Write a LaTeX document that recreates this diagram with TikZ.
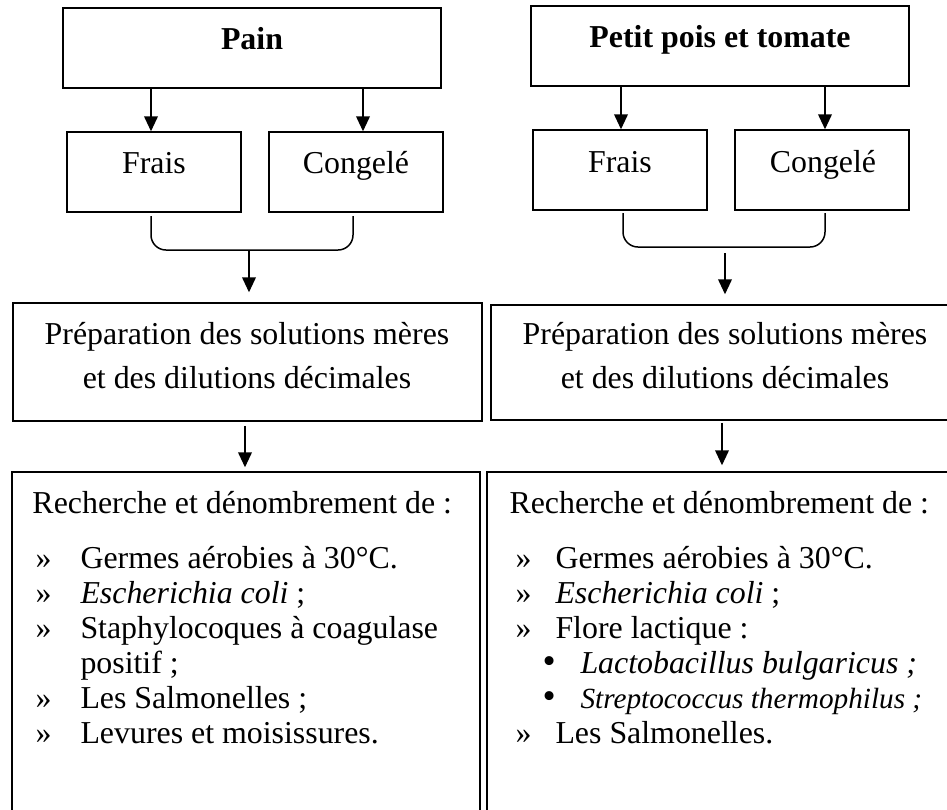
\documentclass[tikz,border=0pt]{standalone}
\usepackage{fontspec}
\setmainfont{Liberation Serif}
\usetikzlibrary{arrows.meta,fit,calc}
\tikzset{
  box/.style={draw, line width=0.6pt, inner sep=0pt},
  arr/.style={line width=0.6pt, -{Triangle[length=6pt,width=5.5pt]}},
  bracketline/.style={line width=0.6pt, rounded corners=6pt},
  lbl/.style={inner sep=0pt, font=\fontsize{12.75}{14}\selectfont},
  itm/.style={lbl, anchor=base west},
  ttl/.style={lbl, anchor=base, font=\fontsize{12.75}{14}\selectfont\bfseries},
}
\newcommand{\subbul}{{\fontsize{15}{15}\selectfont •}}
\begin{document}
\begin{tikzpicture}[x=0.4pt,y=-0.4pt]
\useasboundingbox (0,0) rectangle (947,809);
\clip (0,0) rectangle (947,809);

% ---------------- left column ----------------
\node[box, fit={(63,8)(441,88)}] (painbox) {};
\node[box, fit={(67,132)(241,212)}] (frais1) {};
\node[box, fit={(269,132)(443,212)}] (cong1) {};
\node[box, fit={(13,303)(482,421)}] (prep1) {};
\node[box, fit={(12,472)(480,840)}] (rech1) {};

\node[ttl] (tpain) at (252,49) {Pain};
\node[lbl, anchor=base] (tfrais1) at (154,173) {Frais};
\node[lbl, anchor=base] (tcong1) at (356,173) {Congelé};
\node[lbl, anchor=base] (tprepa1) at (247,344) {Préparation des solutions mères};
\node[lbl, anchor=base] (tprepb1) at (247,388) {et des dilutions décimales};

\node[itm] (r1) at (32,513) {Recherche et dénombrement de :};
\node[itm] (b11) at (35,568) {»};  \node[itm] (i11) at (80,568) {Germes aérobies à 30°C.};
\node[itm] (b12) at (35,603) {»};  \node[itm] (i12) at (80,603) {\textit{Escherichia coli} ;};
\node[itm] (b13) at (35,638) {»};  \node[itm] (i13) at (80,638) {Staphylocoques à coagulase};
\node[itm] (i13b) at (80,673) {positif ;};
\node[itm] (b14) at (35,708) {»};  \node[itm] (i14) at (80,708) {Les Salmonelles ;};
\node[itm] (b15) at (35,743) {»};  \node[itm] (i15) at (80,743) {Levures et moisissures.};

\coordinate (lA) at (151,0);
\coordinate (lB) at (363,0);
\draw[arr] (painbox.south -| lA) -- (frais1.north -| lA);
\draw[arr] (painbox.south -| lB) -- (cong1.north -| lB);
\coordinate (lbL) at (151,216);
\coordinate (lbR) at (353,216);
\coordinate (lbM) at (249,250);
\draw[bracketline] (lbL) |- (lbM) -| (lbR);
\draw[arr, shorten >=4pt] (lbM) -- (lbM |- prep1.north);
\coordinate (lC) at (245,0);
\draw[arr, shorten <=1.6pt, shorten >=1.6pt] (prep1.south -| lC) -- (rech1.north -| lC);

% ---------------- right column ----------------
\node[box, fit={(531,6)(909,86)}] (petitbox) {};
\node[box, fit={(533,130)(707,210)}] (frais2) {};
\node[box, fit={(735,130)(909,210)}] (cong2) {};
\node[box, fit={(491,305)(960,420)}] (prep2) {};
\node[box, fit={(487,472)(960,840)}] (rech2) {};

\node[ttl] (tpetit) at (720,47) {Petit pois et tomate};
\node[lbl, anchor=base] (tfrais2) at (620,172) {Frais};
\node[lbl, anchor=base] (tcong2) at (823,172) {Congelé};
\node[lbl, anchor=base] (tprepa2) at (725,344) {Préparation des solutions mères};
\node[lbl, anchor=base] (tprepb2) at (725,388) {et des dilutions décimales};

\node[itm] (r2) at (509,513) {Recherche et dénombrement de :};
\node[itm] (b21) at (515,568) {»};  \node[itm] (i21) at (555,568) {Germes aérobies à 30°C.};
\node[itm] (b22) at (515,603) {»};  \node[itm] (i22) at (555,603) {\textit{Escherichia coli} ;};
\node[itm] (b23) at (515,638) {»};  \node[itm] (i23) at (555,638) {Flore lactique :};
\node[itm] (s24) at (542,673) {\subbul};  \node[itm] (i24) at (580,673) {\textit{Lactobacillus bulgaricus ;}};
\node[itm] (s25) at (542,708) {\subbul};  \node[itm] (i25) at (580,708) {\fontsize{11.7}{13}\selectfont\textit{Streptococcus thermophilus ;}};
\node[itm] (b26) at (515,743) {»};  \node[itm] (i26) at (555,743) {Les Salmonelles.};

\coordinate (rA) at (621,0);
\coordinate (rB) at (825,0);
\draw[arr] (petitbox.south -| rA) -- (frais2.north -| rA);
\draw[arr] (petitbox.south -| rB) -- (cong2.north -| rB);
\coordinate (rbL) at (623,213);
\coordinate (rbR) at (825,213);
\coordinate (rbM) at (725,247);
\coordinate (rbS) at (725,253);
\draw[bracketline] (rbL) |- (rbM) -| (rbR);
\draw[arr, shorten >=4pt] (rbS) -- (rbS |- prep2.north);
\coordinate (rC) at (722,0);
\draw[arr, shorten <=0.8pt, shorten >=2.4pt] (prep2.south -| rC) -- (rech2.north -| rC);
\end{tikzpicture}
\end{document}
